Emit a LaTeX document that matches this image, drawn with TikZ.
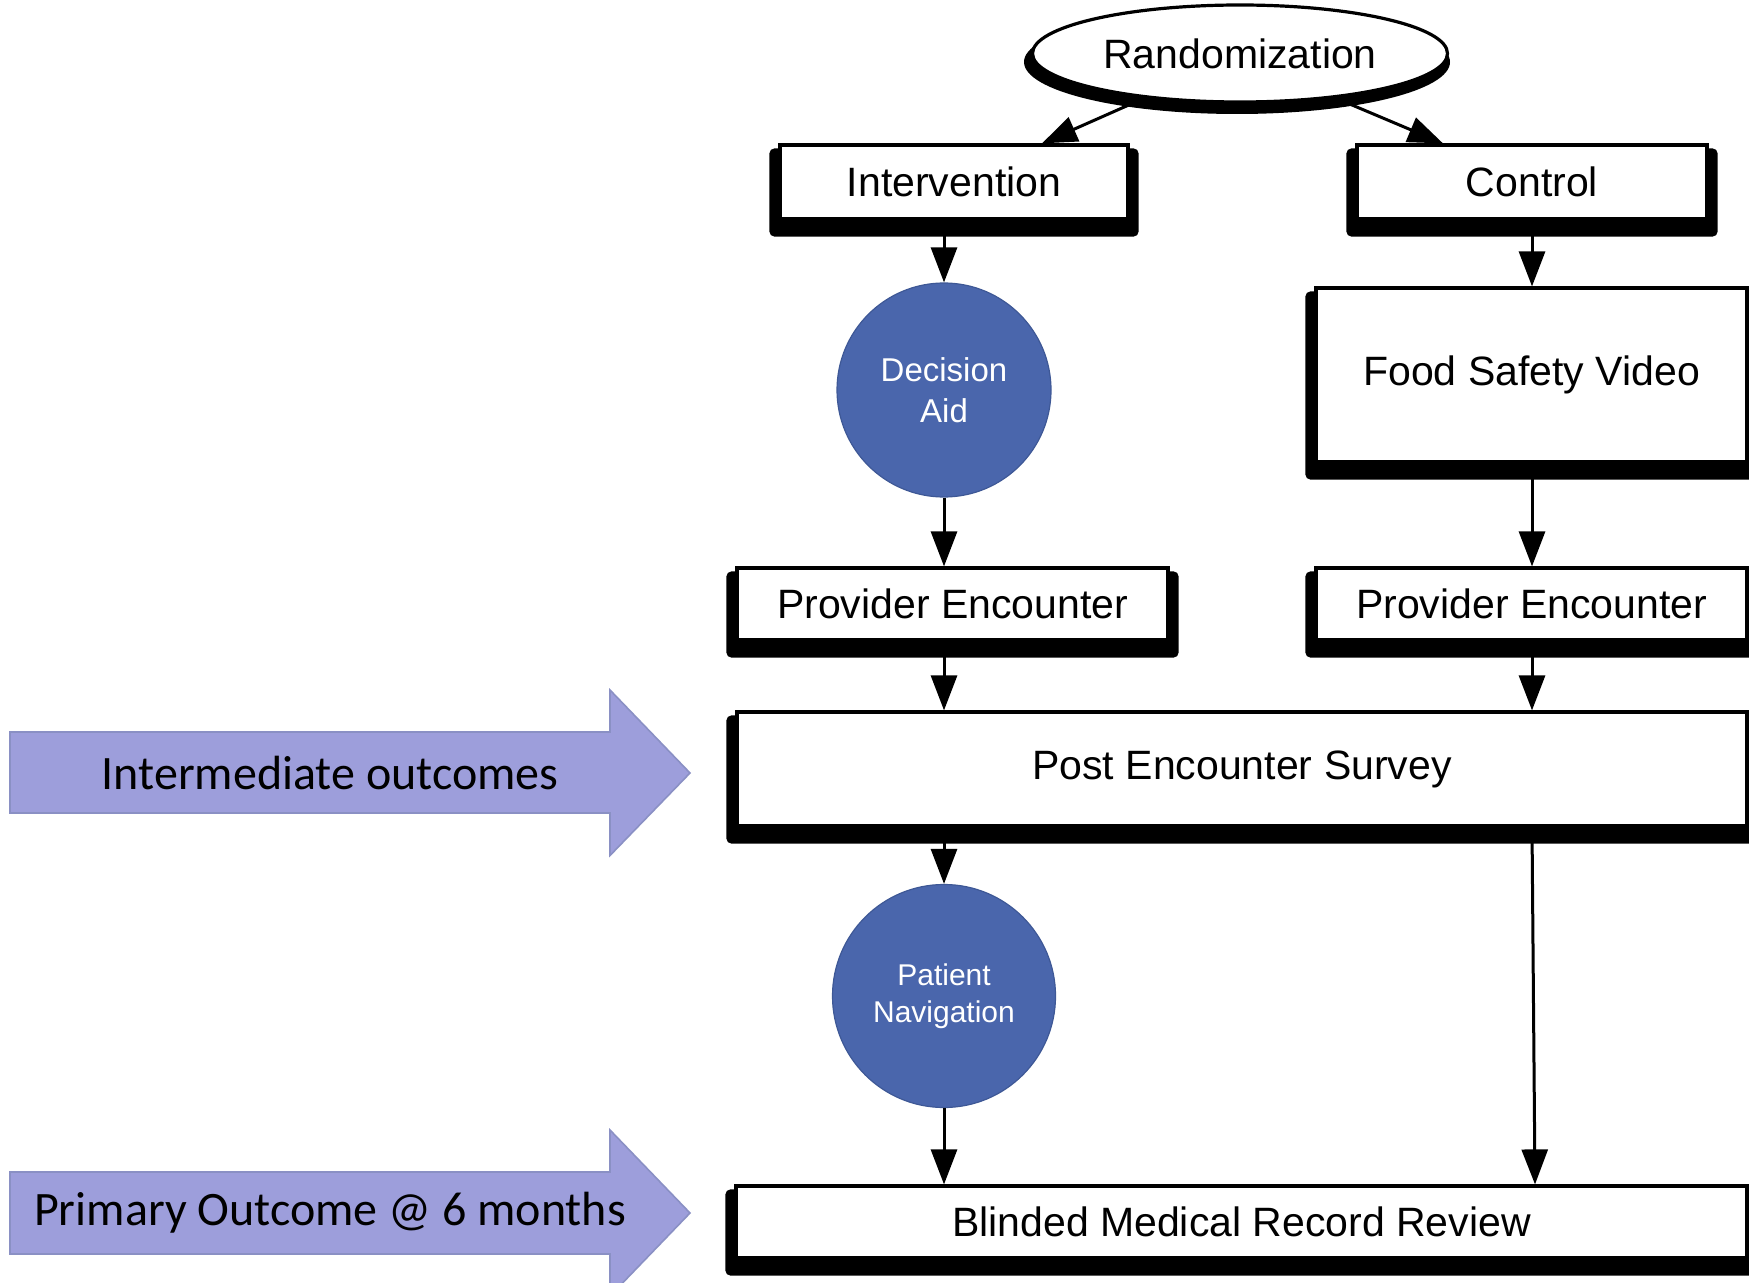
\documentclass[tikz,border=0pt]{standalone}
\usepackage{fontspec}
\setmainfont{Liberation Sans}
\newfontfamily\bannerfont{Carlito}
\usetikzlibrary{arrows.meta,backgrounds,shapes.geometric}

\definecolor{dotfill}{RGB}{74,102,172}
\definecolor{dotline}{RGB}{62,88,150}
\definecolor{lavfill}{RGB}{157,158,219}
\definecolor{lavline}{RGB}{138,144,196}

\begin{document}
\begin{tikzpicture}[x=0.5pt,y=-0.5pt,
  flowbox/.style={rectangle, draw=black, line width=1.6pt, fill=white, inner sep=0pt,
    font=\fontsize{20.5}{24}\selectfont},
  bluedot/.style={circle, fill=dotfill, draw=dotline, line width=0.6pt, inner sep=0pt,
    text=white, align=center},
  flow/.style={line width=1.5pt, -{Triangle[length=17.5pt,width=13pt]}},
  banner/.style={fill=lavfill, draw=lavline, line width=0.8pt},
  bannertext/.style={font=\bannerfont\fontsize{24}{28}\selectfont},
  boxshadow/.style={fill=black, rounded corners=2.5pt}
]
\useasboundingbox (0,0) rectangle (1749,1283);

% column guides for the vertical connectors
\coordinate (colL) at (944,0);
\coordinate (colR) at (1532,0);

% start ellipse
\node[ellipse, draw=black, line width=1.6pt, fill=white, inner sep=0pt,
      minimum width=207.5pt, minimum height=48.5pt,
      font=\fontsize{20.5}{24}\selectfont] (rand) at (1240,53.5) {Randomization};

% boxes
\node[flowbox, minimum width=174pt, minimum height=37pt] (intv) at (954,182) {Intervention};
\node[flowbox, minimum width=175pt, minimum height=37pt] (ctrl) at (1532,182) {Control};
\node[bluedot, minimum size=107pt, font=\fontsize{16.5}{20.3}\selectfont] (da) at (944,390) {Decision\\Aid};
\node[flowbox, minimum width=215.5pt, minimum height=87pt] (fsv) at (1531.5,375) {Food Safety Video};
\node[flowbox, minimum width=215.5pt, minimum height=36pt] (pel) at (952.5,604) {Provider Encounter};
\node[flowbox, minimum width=215.5pt, minimum height=36pt] (per) at (1531.5,604) {Provider Encounter};
\node[flowbox, minimum width=505pt, minimum height=57pt] (pes) at (1242,769) {Post Encounter Survey};
\node[bluedot, minimum size=111.5pt, font=\fontsize{15}{18.3}\selectfont] (pn) at (944,996) {Patient\\Navigation};
\node[flowbox, minimum width=505.5pt, minimum height=36pt] (bmr) at (1241.5,1222) {Blinded Medical Record Review};

% drop shadows
\begin{scope}[on background layer]
  \fill (1237,62) ellipse [x radius=106.5pt, y radius=26pt];
  \foreach \n in {intv,ctrl,fsv,pel,per,pes,bmr}
    \fill[boxshadow] ([xshift=-4.5pt,yshift=-2.5pt]\n.north west) rectangle ([xshift=4.5pt,yshift=-8pt]\n.south east);
\end{scope}

% connectors
\draw[flow] (rand.205) -- ([xshift=44pt]intv.north);
\draw[flow] (rand.335) -- ([xshift=-44.5pt]ctrl.north);
\draw[flow] (colL |- intv.south) -- (da.north);
\draw[flow] (da.south) -- (colL |- pel.north);
\draw[flow] (colL |- pel.south) -- (colL |- pes.north);
\draw[flow] (colL |- pes.south) -- (pn.north);
\draw[flow] (pn.south) -- (colL |- bmr.north);
\draw[flow] (colR |- ctrl.south) -- (colR |- fsv.north);
\draw[flow] (colR |- fsv.south) -- (colR |- per.north);
\draw[flow] (colR |- per.south) -- (colR |- pes.north);
\draw[flow] (colR |- pes.south) -- ([xshift=1.5pt]colR |- bmr.north);

% outcome banners
\draw[banner] (10,732) -- (610,732) -- (610,690) -- (690,773) -- (610,855.5) -- (610,813) -- (10,813) -- cycle;
\node[bannertext] (midlabel) at (330,773) {Intermediate outcomes};
\draw[banner] (10,1172) -- (610,1172) -- (610,1130) -- (690,1213) -- (610,1296) -- (610,1254) -- (10,1254) -- cycle;
\node[bannertext] (primlabel) at (330,1213) {Primary Outcome @ 6 months};
\end{tikzpicture}
\end{document}
